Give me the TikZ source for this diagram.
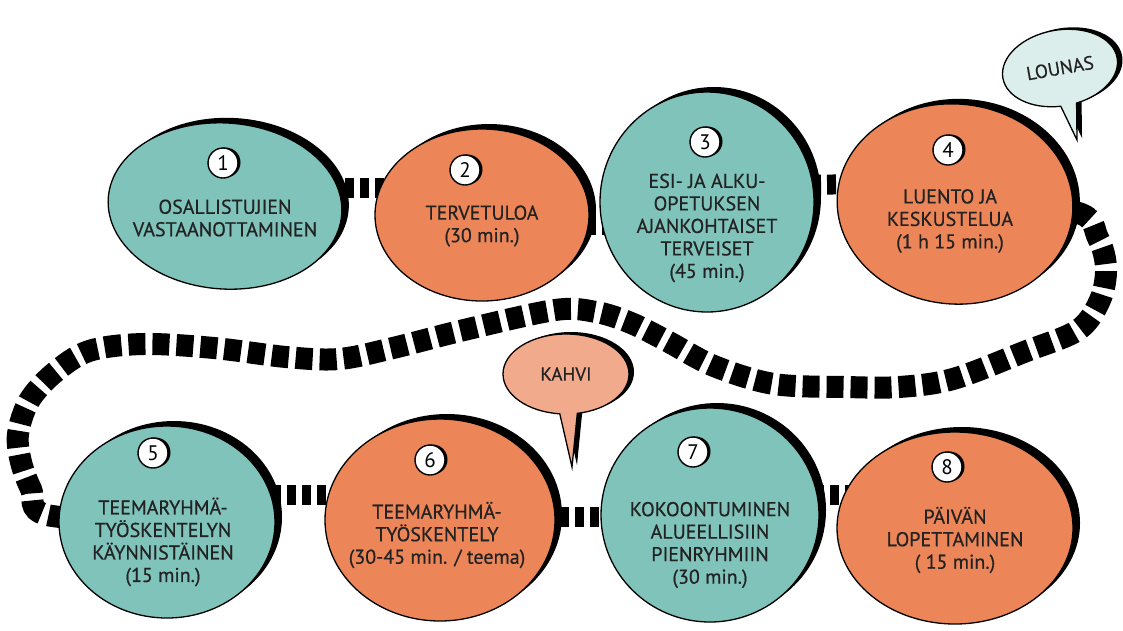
\documentclass[tikz,border=0pt]{standalone}
\usepackage{fontspec}
\setmainfont{PT Sans}
\newfontfamily\labfont{PT Sans}[FakeBold=0.5]
\usetikzlibrary{shapes.geometric,shapes.callouts,shadows}
\definecolor{bteal}{HTML}{80C3BA}
\definecolor{borange}{HTML}{EC8658}
\definecolor{bsalmon}{HTML}{F2AA8C}
\definecolor{blight}{HTML}{DCEEEC}
\definecolor{ink}{HTML}{222222}
\pgfdeclarelayer{bg}
\pgfsetlayers{bg,main}
\tikzset{
  blob/.style={ellipse, draw=black, line width=1.3pt, inner sep=0pt,
    drop shadow={shadow xshift=7pt, shadow yshift=5pt, fill=black, opacity=1}},
  tealblob/.style={blob, fill=bteal},
  orangeblob/.style={blob, fill=borange},
  numcircle/.style={circle, draw=black, line width=1.4pt, fill=white, minimum size=30pt, inner sep=0pt,
    font=\fontsize{21}{21}\selectfont,
    drop shadow={shadow xshift=2.5pt, shadow yshift=0.5pt, fill=black, opacity=1}},
  label/.style={align=center, text=ink, font=\labfont\fontsize{20}{22.5}\selectfont},
  link/.style={line width=20pt, dash pattern=on 9pt off 6pt, black},
  snakelink/.style={line width=22pt, dash pattern=on 17pt off 7pt, black},
  bubble/.style={ellipse callout, draw=black, line width=1.3pt, callout pointer arc=16,
    text=ink, font=\labfont\fontsize{19}{19}\selectfont,
    drop shadow={shadow xshift=5pt, shadow yshift=2pt, fill=black, opacity=1}}
}
\begin{document}
\begin{tikzpicture}[x=1pt,y=-1pt]
\useasboundingbox (0,0) rectangle (1123,630);
% blobs
\node[tealblob, minimum width=234pt, minimum height=166pt, rotate=-4] (b1) at (225,206) {};
\node[orangeblob, minimum width=214pt, minimum height=172pt] (b2) at (482,215) {};
\node[tealblob, minimum width=214pt, minimum height=220pt] (b3) at (707,202) {};
\node[orangeblob, minimum width=236pt, minimum height=200pt, rotate=-5] (b4) at (955,204) {};
\node[tealblob, minimum width=216pt, minimum height=192pt] (b5) at (167,522) {};
\node[orangeblob, minimum width=230pt, minimum height=202pt] (b6) at (440,520) {};
\node[tealblob, minimum width=218pt, minimum height=214pt] (b7) at (710,515) {};
\node[orangeblob, minimum width=236pt, minimum height=192pt] (b8) at (955,528) {};
% numbers
\node[numcircle] (n1) at (223,163) {1};
\node[numcircle] (n2) at (465,170) {2};
\node[numcircle] (n3) at (705,142) {3};
\node[numcircle] (n4) at (948,150) {4};
\node[numcircle] (n5) at (153,453) {5};
\node[numcircle] (n6) at (430,460) {6};
\node[numcircle] (n7) at (693,452) {7};
\node[numcircle] (n8) at (947,467) {8};
% labels
\node[label] (t1) at (225,218) {OSALLISTUJIEN\\VASTAANOTTAMINEN};
\node[label] (t2) at (482,226) {TERVETULOA\\(30 min.)};
\node[label] (t3) at (707,228) {ESI- JA ALKU-\\OPETUKSEN\\AJANKOHTAISET\\TERVEISET\\(45 min.)};
\node[label] (t4) at (950,221) {LUENTO JA\\KESKUSTELUA\\(1 h 15 min.)};
\node[label] (t5) at (163,542) {TEEMARYHMÄ-\\TYÖSKENTELYN\\KÄYNNISTÄINEN\\(15 min.)};
\node[label] (t6) at (437,535) {TEEMARYHMÄ-\\TYÖSKENTELY\\(30-45 min. / teema)};
\node[label] (t7) at (710,545) {KOKOONTUMINEN\\ALUEELLISIIN\\PIENRYHMIIN\\(30 min.)};
\node[label] (t8) at (955,540) {PÄIVÄN\\LOPETTAMINEN\\( 15 min.)};
% speech bubbles
\node[bubble, fill=blight, minimum width=116pt, minimum height=76pt, rotate=10,
  callout absolute pointer={(1077,140)}] (lounas) at (1060,68) {LOUNAS};
\node[bubble, fill=bsalmon, minimum width=126pt, minimum height=80pt,
  callout absolute pointer={(572,467)}] (kahvi) at (566,374) {KAHVI};
% connectors
\begin{pgfonlayer}{bg}
\draw[link] ([yshift=18pt]b1.center) -- ([yshift=27pt]b2.center);
\draw[link] ([yshift=-10pt]b2.center) -- ([yshift=-23pt]b3.center);
\draw[link] ([yshift=17pt]b3.center) -- ([yshift=20pt]b4.center);
\draw[link] ([yshift=27pt]b5.center) -- ([yshift=25pt]b6.center);
\draw[link] ([yshift=3pt]b6.center) -- ([yshift=-2pt]b7.center);
\draw[link] ([yshift=20pt]b7.center) -- ([yshift=33pt]b8.center);
\draw[snakelink] plot[smooth, tension=0.55] coordinates {(b4.center) (1075,212) (1098,238) (1106,268) (1100,300) (1078,330) (1024,352) (953,379) (899,387) (846,387) (774,384) (714,366) (667,341) (631,323) (596,312) (555,310) (464,330) (393,348) (339,359) (286,357) (214,348) (143,344) (89,351) (54,373) (29,401) (18,434) (21,462) (31,489) (47,515) (b5.center)};
\end{pgfonlayer}
\end{tikzpicture}
\end{document}
